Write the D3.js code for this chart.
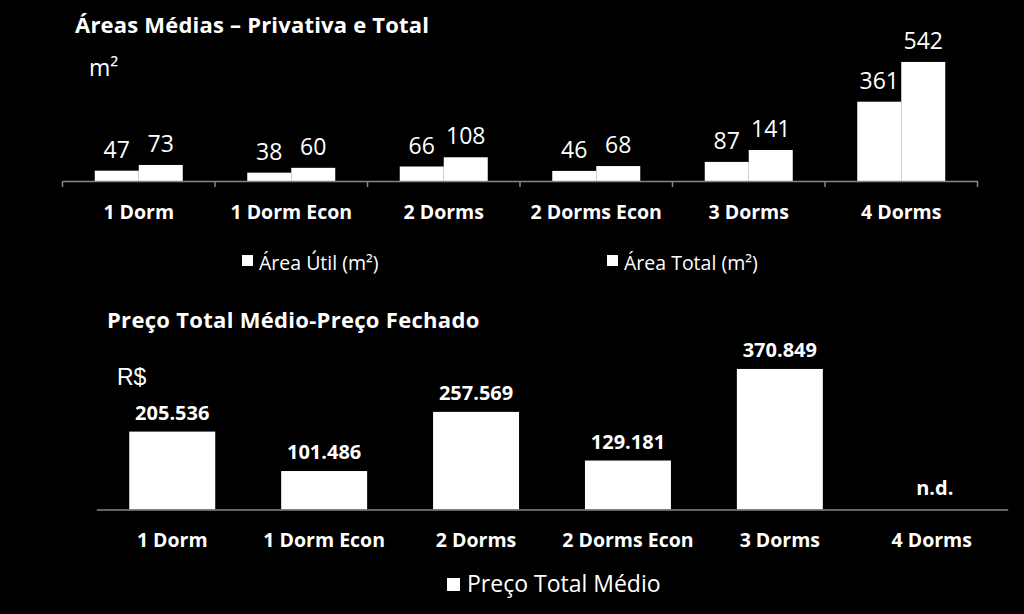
<!DOCTYPE html>
<html>
<head>
<meta charset="utf-8">
<script src="https://cdn.jsdelivr.net/npm/d3@7"></script>
<style>
  html, body { margin: 0; padding: 0; background: #000; }
  svg { display: block; }
  text { fill: #fff; }
</style>
</head>
<body>
<svg id="chart" width="1024" height="614"></svg>
<script>
// ---- data ----
const categories = ["1 Dorm", "1 Dorm Econ", "2 Dorms", "2 Dorms Econ", "3 Dorms", "4 Dorms"];
const seriesNames = ["Área Útil (m²)", "Área Total (m²)"];
const areaUtil = [47, 38, 66, 46, 87, 361];
const areaTotal = [73, 60, 108, 68, 141, 542];
const priceName = "Preço Total Médio";
const precoTotal = [205536, 101486, 257569, 129181, 370849, null];
const missingLabel = "n.d.";
const title1 = "Áreas Médias – Privativa e Total";
const title2 = "Preço Total Médio-Preço Fechado";
const unit1 = "m²";
const unit2 = "R$";

const FONT = "'Open Sans', 'Noto Sans', sans-serif";
const AXIS_COLOR = "#868686";
const svg = d3.select("#chart");
svg.append("rect").attr("width", 1024).attr("height", 614).attr("fill", "#000");

const br = d3.formatLocale({decimal: ",", thousands: ".", grouping: [3], currency: ["R$", ""]});
const fmtPrice = br.format(",d");

// ---- top chart ----
const x0 = d3.scaleBand().domain(categories).range([62.5, 977.5]).padding(0);
const x1 = d3.scaleBand().domain(seriesNames).range([0, x0.bandwidth()]).paddingInner(0).paddingOuter(0.733);
const yTop = d3.scaleLinear().domain([0, 600]).range([181, 49.2]);
const topData = categories.map((c, i) => ({cat: c, vals: [
  {s: seriesNames[0], v: areaUtil[i]}, {s: seriesNames[1], v: areaTotal[i]}]}));

svg.append("text").attr("x", 75).attr("y", 33).attr("font-family", FONT)
  .attr("font-weight", "bold").attr("font-size", 22).attr("letter-spacing", 0.2).text(title1);
svg.append("text").attr("x", 89).attr("y", 76).attr("font-family", FONT)
  .attr("font-size", 23).text(unit1);

const gTop = svg.append("g");
const groups = gTop.selectAll("g.grp").data(topData).join("g")
  .attr("transform", d => `translate(${x0(d.cat)},0)`);
groups.selectAll("rect").data(d => d.vals).join("rect")
  .attr("x", d => x1(d.s)).attr("width", x1.bandwidth())
  .attr("y", d => yTop(d.v)).attr("height", d => yTop(0) - yTop(d.v))
  .attr("fill", "#fff");
groups.selectAll("text").data(d => d.vals).join("text")
  .attr("x", d => x1(d.s) + x1.bandwidth() / 2)
  .attr("y", d => yTop(d.v) - 13)
  .attr("text-anchor", "middle").attr("font-family", FONT).attr("font-size", 23)
  .text(d => d.v);

// axis
const xAxisTop = d3.axisBottom(x0).tickSize(0).tickSizeOuter(0).tickPadding(0);
const axT = svg.append("g").attr("transform", `translate(0,${yTop(0)})`).call(xAxisTop);
axT.select(".domain").attr("stroke", AXIS_COLOR).attr("stroke-width", 1.5);
axT.selectAll(".tick text").attr("y", 38).attr("dy", 0).attr("fill", "#fff")
  .attr("font-family", FONT).attr("font-weight", "bold").attr("font-size", 19.5);
const bounds = categories.map(c => x0(c)).concat([x0.range()[1]]);
axT.selectAll("line.bound").data(bounds).join("line").attr("class", "bound")
  .attr("x1", d => d).attr("x2", d => d).attr("y1", 0).attr("y2", 6)
  .attr("stroke", AXIS_COLOR).attr("stroke-width", 1.5);

// legend top
const legTopX = [242, 607];
const legTop = svg.append("g").selectAll("g").data(seriesNames).join("g")
  .attr("transform", (d, i) => `translate(${legTopX[i]},255)`);
legTop.append("rect").attr("width", 11).attr("height", 11).attr("fill", "#fff");
legTop.append("text").attr("x", 17).attr("y", 15).attr("font-family", FONT)
  .attr("font-size", 19.5).text(d => d);

// ---- bottom chart ----
const xb = d3.scaleBand().domain(categories).range([96.3, 1007.7]).paddingInner(0.434).paddingOuter(0.217);
const yb = d3.scaleLinear().domain([0, 400000]).range([509.5, 357.9]);

svg.append("text").attr("x", 107).attr("y", 328).attr("font-family", FONT)
  .attr("font-weight", "bold").attr("font-size", 22).attr("letter-spacing", 0.3).text(title2);
svg.append("text").attr("x", 117).attr("y", 385).attr("font-family", "'Liberation Sans', Arial, sans-serif")
  .attr("font-size", 23).text(unit2);

const bData = categories.map((c, i) => ({cat: c, v: precoTotal[i]}));
svg.append("g").selectAll("rect").data(bData.filter(d => d.v != null)).join("rect")
  .attr("x", d => xb(d.cat)).attr("width", xb.bandwidth())
  .attr("y", d => yb(d.v)).attr("height", d => yb(0) - yb(d.v)).attr("fill", "#fff");
svg.append("g").selectAll("text").data(bData).join("text")
  .attr("x", d => xb(d.cat) + xb.bandwidth() / 2 + (d.v == null ? 3 : 0))
  .attr("y", d => d.v == null ? yb(0) - 15 : yb(d.v) - 12)
  .attr("text-anchor", "middle").attr("font-family", FONT)
  .attr("font-weight", "bold").attr("font-size", 20)
  .text(d => d.v == null ? missingLabel : fmtPrice(d.v));

const xAxisB = d3.axisBottom(xb).tickSize(0).tickSizeOuter(0).tickPadding(0);
const axB = svg.append("g").attr("transform", `translate(0,${yb(0)})`).call(xAxisB);
axB.select(".domain").attr("stroke", AXIS_COLOR).attr("stroke-width", 1.5);
axB.selectAll(".tick text").attr("y", 37).attr("dy", 0).attr("fill", "#fff")
  .attr("font-family", FONT).attr("font-weight", "bold").attr("font-size", 19.5);

// legend bottom
const legB = svg.append("g").attr("transform", "translate(447,578)");
legB.append("rect").attr("width", 13).attr("height", 13).attr("fill", "#fff");
legB.append("text").attr("x", 20).attr("y", 14).attr("font-family", FONT)
  .attr("font-size", 23).text(priceName);
</script>
</body>
</html>
